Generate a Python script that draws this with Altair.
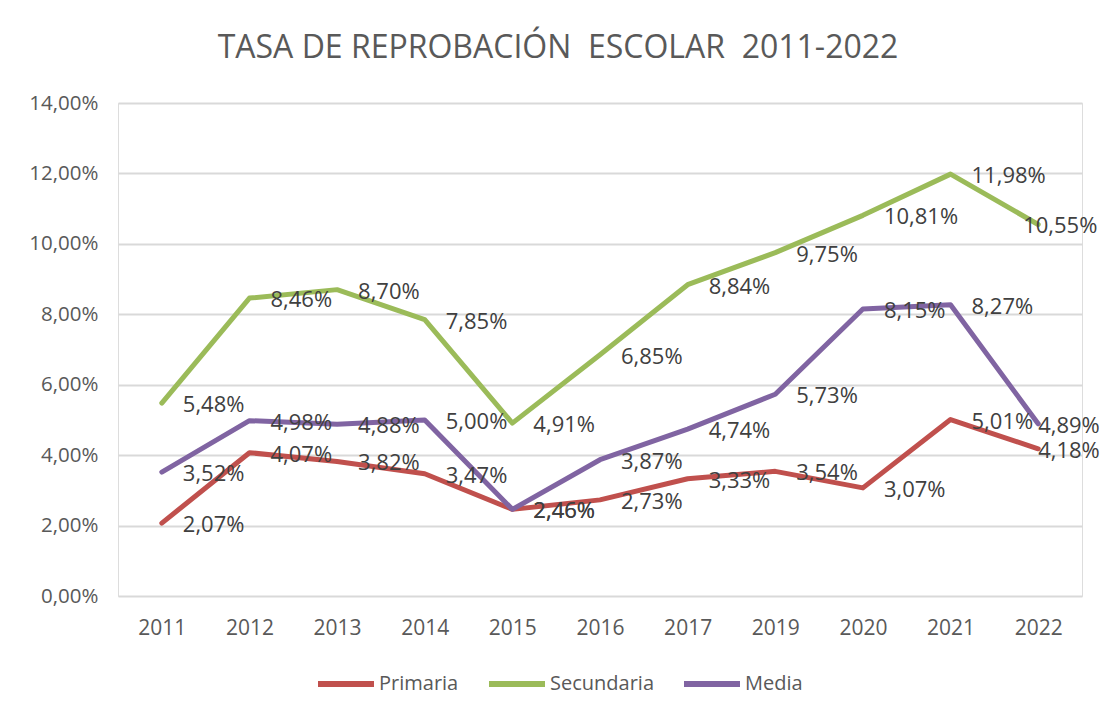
import altair as alt
import pandas as pd

years = ["2011", "2012", "2013", "2014", "2015", "2016", "2017", "2019", "2020", "2021", "2022"]
series_names = ["Primaria", "Secundaria", "Media"]
primaria = [2.07, 4.07, 3.82, 3.47, 2.46, 2.73, 3.33, 3.54, 3.07, 5.01, 4.18]
secundaria = [5.48, 8.46, 8.70, 7.85, 4.91, 6.85, 8.84, 9.75, 10.81, 11.98, 10.55]
media = [3.52, 4.98, 4.88, 5.00, 2.46, 3.87, 4.74, 5.73, 8.15, 8.27, 4.89]
colors = ["#C0504D", "#9BBB59", "#8064A2"]
y_ticks = [0, 2, 4, 6, 8, 10, 12, 14]

rows = []
for name, vals in zip(series_names, [primaria, secundaria, media]):
    for yr, v in zip(years, vals):
        rows.append({"Año": yr, "Serie": name, "Tasa": v,
                     "Etiqueta": f"{v:.2f}%".replace(".", ",")})
df = pd.DataFrame(rows)

FONT = "Open Sans"
TXT = "#595959"

x_enc = alt.X("Año:N", sort=years, scale=alt.Scale(type="point", padding=0.5),
              axis=alt.Axis(title=None, labelAngle=0, ticks=False, domain=False,
                            labelFontSize=21, labelColor=TXT, labelFont=FONT,
                            labelPadding=21))
y_enc = alt.Y("Tasa:Q", scale=alt.Scale(domain=[0, 14], nice=False),
              axis=alt.Axis(title=None, values=y_ticks, ticks=False, domain=False,
                            labelExpr="replace(format(datum.value, '.2f'), '.', ',') + '%'",
                            labelFontSize=20.5, labelColor=TXT, labelFont=FONT,
                            labelPadding=20, gridColor="#D9D9D9", gridWidth=2))
color_enc = alt.Color("Serie:N", scale=alt.Scale(domain=series_names, range=colors),
                      sort=series_names,
                      legend=alt.Legend(title=None, orient="none", direction="horizontal",
                                        legendX=197, legendY=550,
                                        symbolType="stroke", symbolSize=3136,
                                        symbolStrokeWidth=6, labelFontSize=20,
                                        labelFont=FONT, labelColor=TXT,
                                        labelOffset=2, columnPadding=18))

lines = alt.Chart(df).mark_line(strokeWidth=5, strokeCap="round", strokeJoin="round").encode(
    x=x_enc, y=y_enc, color=color_enc, detail="Serie:N")

labels = alt.Chart(df).transform_calculate(
    off="datum['Año'] == '2022' ? (datum.Serie == 'Secundaria' ? -15 : 0) : 21"
).mark_text(align="left", baseline="middle", dy=2,
            fontSize=22, font=FONT, color="#404040").encode(
    x=alt.X("Año:N", sort=years),
    xOffset=alt.XOffset("off:Q", scale=None),
    y="Tasa:Q", text="Etiqueta:N")

title_text = "TASA DE REPROBACIÓN\u00a0\u00a0ESCOLAR\u00a0\u00a02011-2022"

chart = alt.layer(lines, labels).properties(
    width=964, height=493,
    title=alt.Title(title_text, fontSize=32, font=FONT,
                    fontWeight="normal", color=TXT, anchor="middle", frame="group",
                    dx=-42, offset=28),
    padding={"left": 110, "top": 95, "right": 18, "bottom": 100},
    autosize=alt.AutoSizeParams(type="none"),
).configure_view(stroke=None).configure(background="white")

chart.save("out.html", embed_options={"renderer": "svg", "actions": False})
